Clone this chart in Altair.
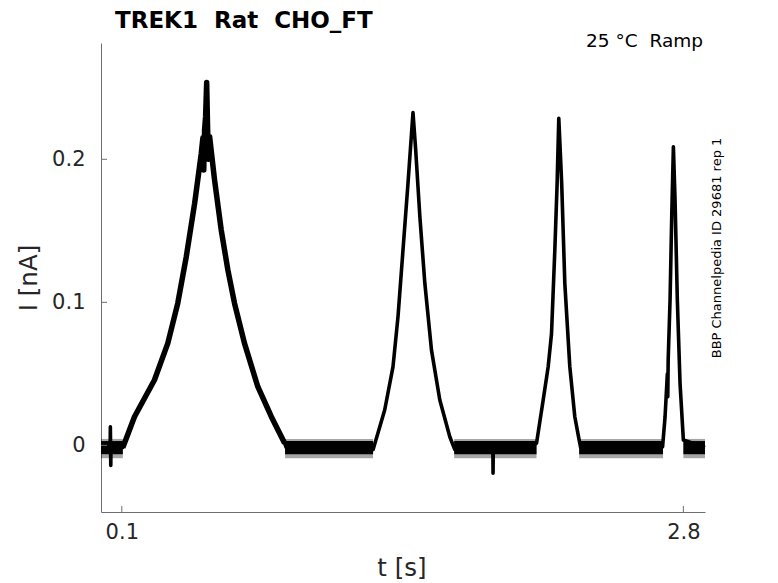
import altair as alt
import pandas as pd

# ---- trace (time in s, current in nA) ----
T = [0.000, 0.044, 0.045, 0.047, 0.048, 0.105, 0.161, 0.257, 0.321, 0.369, 0.410,
     0.450, 0.482, 0.490, 0.494, 0.498, 0.503, 0.508, 0.512, 0.516, 0.522, 0.546,
     0.578, 0.610, 0.642, 0.690, 0.754, 0.819, 0.883, 0.890,
     1.305, 1.308, 1.364, 1.404, 1.428, 1.452, 1.476, 1.493, 1.500, 1.513, 1.533,
     1.557, 1.589, 1.629, 1.677, 1.701,
     1.884, 1.885, 1.886,
     2.094, 2.126, 2.150, 2.166, 2.182, 2.193, 2.201, 2.215, 2.230, 2.254, 2.278, 2.299, 2.306,
     2.700, 2.712, 2.723, 2.725, 2.727, 2.736, 2.744, 2.752, 2.760, 2.771, 2.784, 2.800, 2.904]
I = [-0.0015, -0.0015, 0.013, -0.014, -0.0015, -0.0015, 0.020, 0.0457, 0.0713, 0.0993, 0.1319,
     0.169, 0.204, 0.215, 0.1925, 0.2205, 0.230, 0.2536, 0.225, 0.200, 0.216, 0.1855,
     0.1506, 0.1226, 0.0993, 0.0713, 0.041, 0.020, 0.0014, -0.0015,
     -0.0015, -0.003, 0.0247, 0.055, 0.090, 0.1366, 0.1832, 0.2182, 0.2326, 0.2065, 0.160,
     0.1133, 0.0666, 0.0317, 0.006, -0.003,
     -0.0015, -0.0195, -0.0015,
     0.0014, 0.0317, 0.055, 0.078, 0.1366, 0.183, 0.2287, 0.183, 0.1133, 0.055, 0.020, 0.0037, -0.0015,
     -0.001, 0.020, 0.050, 0.034, 0.060, 0.1016, 0.160, 0.2088, 0.1715, 0.1016, 0.0434, 0.0037, -0.0015]

# baseline noise bands
band_t0 = [0.000, 0.885, 1.698, 2.299, 2.800]
band_t1 = [0.105, 1.308, 2.094, 2.702, 2.904]
core_lo, core_hi = -0.0062, 0.0030
fuzz_lo, fuzz_hi = -0.0090, 0.0045

x_ticks = [0.1, 2.8]
y_ticks = [0, 0.1, 0.2]
x_domain = [0.0, 2.904]
y_domain = [-0.0466, 0.2813]

W, H = 604, 469
FONT = "DejaVu Sans"
AX = "#6e6e6e"
LAB = "#262626"

trace = pd.DataFrame({"t": T, "i": I})
bands = pd.DataFrame({"t0": band_t0, "t1": band_t1,
                      "clo": [core_lo] * 5, "chi": [core_hi] * 5,
                      "flo": [fuzz_lo] * 5, "fhi": [fuzz_hi] * 5})

xs = alt.Scale(domain=x_domain, nice=False, zero=False)
ys = alt.Scale(domain=y_domain, nice=False, zero=False)

xaxis = alt.Axis(values=x_ticks, format="~g", ticks=False, tickSize=0, grid=False,
                 domainColor=AX, domainWidth=1, labelFont=FONT, labelFontSize=21,
                 labelColor=LAB, labelPadding=9, labelFlush=False)
yaxis = alt.Axis(values=y_ticks, format="~g", ticks=False, tickSize=0, grid=False,
                 domainColor=AX, domainWidth=1, labelFont=FONT, labelFontSize=21,
                 labelColor=LAB, labelPadding=16)

line = alt.Chart(trace).mark_line(color="black", strokeWidth=3.6, strokeJoin="round").encode(
    x=alt.X("t:Q", scale=xs, title=None, axis=xaxis),
    y=alt.Y("i:Q", scale=ys, title=None, axis=yaxis),
)
# the first (slow) ramp response is a thicker, noisier band
line1 = alt.Chart(trace).transform_filter(
    (alt.datum.t >= 0.105) & (alt.datum.t <= 0.883)
).mark_line(color="black", strokeWidth=5.5, strokeJoin="round").encode(
    x=alt.X("t:Q", scale=xs, title=None),
    y=alt.Y("i:Q", scale=ys, title=None),
)

fuzz = alt.Chart(bands).mark_rect(color="black", opacity=0.35).encode(
    x=alt.X("t0:Q", scale=xs, title=None), x2="t1:Q",
    y=alt.Y("flo:Q", scale=ys, title=None), y2="fhi:Q")
core = alt.Chart(bands).mark_rect(color="black").encode(
    x=alt.X("t0:Q", scale=xs, title=None), x2="t1:Q",
    y=alt.Y("clo:Q", scale=ys, title=None), y2="chi:Q")

yt = alt.Chart(pd.DataFrame({"v": y_ticks})).mark_rule(color=AX, strokeWidth=1).encode(
    y=alt.Y("v:Q", scale=ys, title=None), x=alt.value(0), x2=alt.value(6))
xt = alt.Chart(pd.DataFrame({"v": x_ticks})).mark_rule(color=AX, strokeWidth=1).encode(
    x=alt.X("v:Q", scale=xs, title=None), y=alt.value(H), y2=alt.value(H - 6))


def label(txt, x, y, size, weight="normal", align="center", angle=0, color="black"):
    return alt.Chart(pd.DataFrame({"txt": [txt]})).mark_text(
        font=FONT, fontSize=size, fontWeight=weight, align=align, baseline="alphabetic",
        angle=angle, color=color).encode(x=alt.value(x), y=alt.value(y), text="txt:N")


title = label("TREK1 \u00a0Rat \u00a0CHO_FT", 14, -15, 23, weight="bold", align="left")
temp = label("25 °C \u00a0Ramp", 602, 4, 18.5, align="right")
xlab = label("t [s]", 301, 533, 24.5, color=LAB)
ylab = label("I [nA]", -64, 235, 24.5, angle=270, color=LAB)
side = label("BBP Channelpedia ID 29681 rep 1", 620, 205, 13, angle=270)

chart = alt.layer(line, line1, fuzz, core, yt, xt, title, temp, xlab, ylab, side).properties(
    width=W, height=H,
    autosize=alt.AutoSizeParams(type="none"),
    padding={"left": 93, "top": 35, "right": 60, "bottom": 72},
).configure_view(stroke=None)

chart.save("out.html", embed_options={"renderer": "svg", "actions": False})
